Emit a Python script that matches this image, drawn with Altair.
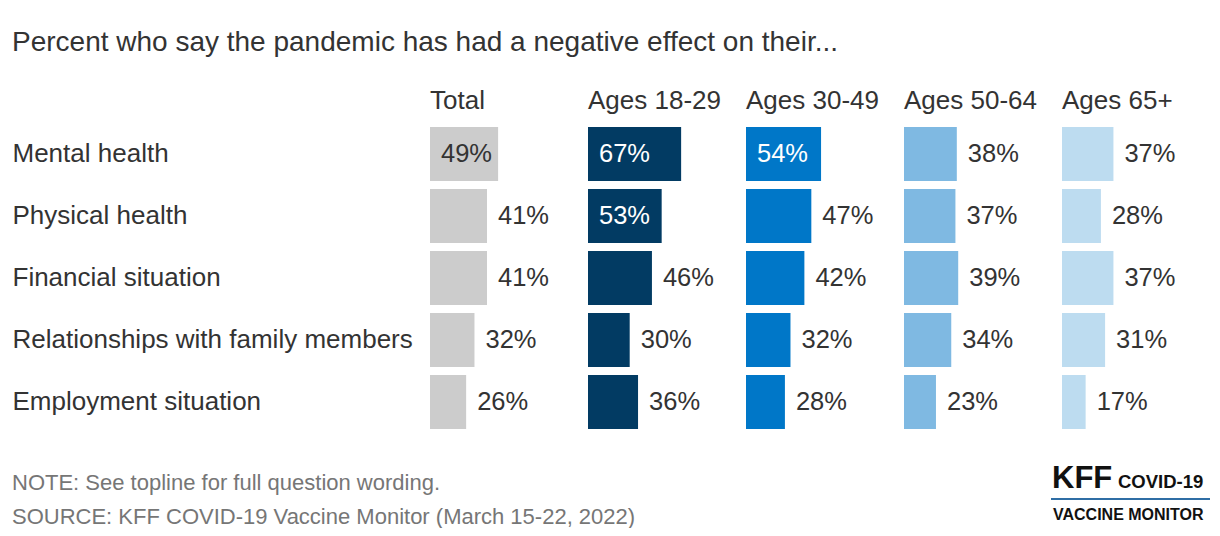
import altair as alt
import pandas as pd

title_text = "Percent who say the pandemic has had a negative effect on their..."
note_text = "NOTE: See topline for full question wording."
source_text = "SOURCE: KFF COVID-19 Vaccine Monitor (March 15-22, 2022)"

items = ["Mental health", "Physical health", "Financial situation",
         "Relationships with family members", "Employment situation"]
groups = ["Total", "Ages 18-29", "Ages 30-49", "Ages 50-64", "Ages 65+"]
total = [49, 41, 41, 32, 26]
ages_18_29 = [67, 53, 46, 30, 36]
ages_30_49 = [54, 47, 42, 32, 28]
ages_50_64 = [38, 37, 39, 34, 23]
ages_65_plus = [37, 28, 37, 31, 17]
colors = ["#cccccc", "#023b63", "#0077c8", "#7fb9e2", "#bddcf0"]

series = [total, ages_18_29, ages_30_49, ages_50_64, ages_65_plus]
rows = []
for g, vals in zip(groups, series):
    for it, v in zip(items, vals):
        rows.append({"group": g, "item": it, "value": v})
df = pd.DataFrame(rows)

FONT = "Liberation Sans"
DARK = "#333333"
GRAY = "#767676"

base = alt.Chart(df).transform_calculate(
    labelx="datum.value >= 48 ? 0 : datum.value",
    label="datum.value + '%'",
    tcolor="(datum.value >= 48 && datum.group != 'Total') ? 'white' : '#333333'",
)

yenc = alt.Y(
    "item:N", sort=items,
    scale=alt.Scale(paddingInner=0.129, paddingOuter=0.0645),
    axis=alt.Axis(title=None, orient="left", labelAlign="left", labelPadding=418,
                  tickSize=0, domain=False, ticks=False, labelFontSize=26,
                  labelColor=DARK, labelFont=FONT, labelLimit=0),
)

bars = base.mark_bar().encode(
    x=alt.X("value:Q", scale=alt.Scale(domain=[0, 100]), axis=None),
    y=yenc,
    color=alt.Color("group:N", scale=alt.Scale(domain=groups, range=colors), legend=None),
)

labels = base.mark_text(align="left", baseline="middle", dx=11, fontSize=25.5,
                        font=FONT).encode(
    x=alt.X("labelx:Q"),
    y=alt.Y("item:N", sort=items),
    text="label:N",
    color=alt.Color("tcolor:N", scale=None),
)

first = base.transform_filter("datum.group == 'Total' && datum.item == 'Mental health'")
note = first.mark_text(align="left", baseline="alphabetic", fontSize=22, font=FONT,
                       color=GRAY).encode(x=alt.value(-418), y=alt.value(367),
                                          text=alt.value(note_text))
source = first.mark_text(align="left", baseline="alphabetic", fontSize=22, font=FONT,
                         color=GRAY).encode(x=alt.value(-418), y=alt.value(401),
                                            text=alt.value(source_text))

last = base.transform_filter("datum.group == 'Ages 65+' && datum.item == 'Mental health'")
kff = last.mark_text(align="left", baseline="alphabetic", fontSize=31, font=FONT,
                     fontWeight="bold", color="#111111").encode(
    x=alt.value(-10), y=alt.value(365), text=alt.value("KFF"))
covid = last.mark_text(align="left", baseline="alphabetic", fontSize=18.5, font=FONT,
                       fontWeight="bold", color="#111111").encode(
    x=alt.value(56), y=alt.value(365), text=alt.value("COVID-19"))
vm = last.mark_text(align="left", baseline="alphabetic", fontSize=16, font=FONT,
                    fontWeight="bold", color="#111111").encode(
    x=alt.value(-9), y=alt.value(397), text=alt.value("VACCINE MONITOR"))
line = last.mark_rule(color="#2f6ea5", strokeWidth=2).encode(
    x=alt.value(-11), x2=alt.value(148), y=alt.value(376))

layered = alt.layer(bars, labels, note, source, kff, covid, vm, line).properties(
    width=139, height=310)

chart = layered.facet(
    column=alt.Column("group:N", sort=groups,
                      header=alt.Header(title=None, labelFontSize=26, labelAnchor="start",
                                        labelAlign="left", labelColor=DARK, labelFont=FONT,
                                        labelBaseline="alphabetic", labelPadding=-12)),
    spacing=19,
    bounds="flush",
).properties(
    title=alt.Title(title_text, anchor="start", fontSize=28, font=FONT, color=DARK,
                    fontWeight="normal", offset=31),
    padding={"left": 4, "top": 21, "right": 0, "bottom": 0},
).configure_view(stroke=None)

chart.save("out.html", embed_options={"renderer": "svg", "actions": False})
